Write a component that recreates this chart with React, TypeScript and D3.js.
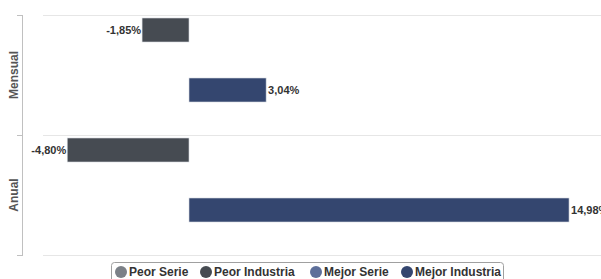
import React from 'react';
import * as d3 from 'd3';

const categories = ['Mensual', 'Anual'];
const seriesNames = ['Peor Serie', 'Peor Industria', 'Mejor Serie', 'Mejor Industria'];
const seriesColors = ['#7b8087', '#464b52', '#5d6f9a', '#34466f'];
// slot order inside each category band
const slotOrder = ['Peor Industria', 'Peor Serie', 'Mejor Industria', 'Mejor Serie'];
const peorSerie: (number | null)[] = [null, null];
const peorIndustria: (number | null)[] = [-1.85, -4.8];
const mejorSerie: (number | null)[] = [null, null];
const mejorIndustria: (number | null)[] = [3.04, 14.98];

const W = 601;
const H = 279;
const margin = { top: 15, bottom: 24, left: 43, right: 0 };

export default function App() {
    const values: Record<string, (number | null)[]> = {
        'Peor Serie': peorSerie,
        'Peor Industria': peorIndustria,
        'Mejor Serie': mejorSerie,
        'Mejor Industria': mejorIndustria,
    };
    const y = d3.scaleBand<string>()
        .domain(categories)
        .range([margin.top, H - margin.bottom]);
    const ySub = d3.scaleBand<string>()
        .domain(slotOrder)
        .range([0, y.bandwidth()])
        .paddingInner(0.2)
        .paddingOuter(0.1);
    const x = d3.scaleLinear()
        .domain([-5.755, 16.24])
        .range([margin.left, W]);
    const fmt = (v: number) => v.toFixed(2).replace('.', ',') + '%';
    const font = '"Liberation Sans", Arial, sans-serif';

    const legendX = [115, 200, 310, 401];

    return (
        <div style={{ position: 'fixed', left: 0, top: 0 }}>
            <svg width={W} height={H} style={{ display: 'block', fontFamily: font }}>
                <rect width={W} height={H} fill="#fff" />
                {[margin.top, margin.top + y.bandwidth(), H - margin.bottom].map((gy, i) => (
                    <g key={i}>
                        <line x1={margin.left} x2={W} y1={gy + 0.5} y2={gy + 0.5} stroke="#e6e6e6" />
                        <line x1={17} x2={22} y1={gy + 0.5} y2={gy + 0.5} stroke="#c0c0c0" />
                    </g>
                ))}
                <line x1={22.5} x2={22.5} y1={margin.top} y2={H - margin.bottom + 1} stroke="#c0c0c0" />
                {categories.map(c => (
                    <text key={c} transform={`translate(18,${(y(c) ?? 0) + y.bandwidth() / 2}) rotate(-90)`}
                        textAnchor="middle" fontSize={12} fontWeight="bold" fill="#555">{c}</text>
                ))}
                {categories.map((c, ci) => seriesNames.map((s, si) => {
                    const v = values[s][ci];
                    if (v === null) return null;
                    const by = (y(c) ?? 0) + (ySub(s) ?? 0);
                    const x0 = x(Math.min(0, v));
                    const x1 = x(Math.max(0, v));
                    const neg = v < 0;
                    return (
                        <g key={c + s}>
                            <rect x={x0} y={by} width={x1 - x0} height={ySub.bandwidth()}
                                fill={seriesColors[si]} stroke="#d8dbe0" strokeWidth={0.6} />
                            <text x={neg ? x0 - 1 : x1 + 2} y={by + ySub.bandwidth() / 2} dy="0.35em"
                                textAnchor={neg ? 'end' : 'start'} fontSize={11} fontWeight="bold" fill="#333">{fmt(v)}</text>
                        </g>
                    );
                }))}
                <rect x={111.5} y={262.5} width={392} height={24} rx={3} fill="#fff" stroke="#a0a0a0" />
                {seriesNames.map((s, i) => (
                    <g key={s} transform={`translate(${legendX[i]},272)`}>
                        <circle cx={6} cy={0} r={6} fill={seriesColors[i]} />
                        <text x={14} y={0} dy="0.35em" fontSize={12} fontWeight="bold" fill="#333">{s}</text>
                    </g>
                ))}
            </svg>
        </div>
    );
}
